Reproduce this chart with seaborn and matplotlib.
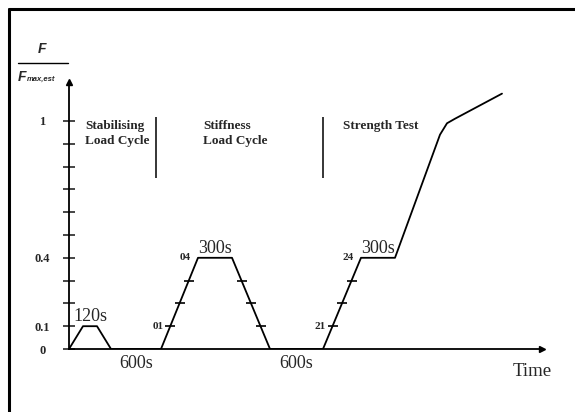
import numpy as np
import pandas as pd
import matplotlib
matplotlib.use("Agg")
import matplotlib.pyplot as plt
from matplotlib.lines import Line2D
import seaborn as sns

# Load path F / F_max,est against schematic time
time = [0, 14, 28, 42, 92, 129, 163, 201, 254, 292, 326, 371, 378, 386, 433]
load = [0, 0.1, 0.1, 0, 0, 0.4, 0.4, 0, 0, 0.4, 0.4, 0.94, 0.99, 1.01, 1.12]

# Ramp segments (index pairs into the path) that carry load-step marks
ramp_segments = [(4, 5), (6, 7), (8, 9)]
step_levels = [0.1, 0.2, 0.3]

y_ticks = [0, 0.1, 0.2, 0.3, 0.4, 0.5, 0.6, 0.7, 0.8, 0.9, 1.0]
y_tick_labels = ["0", "0.1", "", "", "0.4", "", "", "", "", "", "1"]

hold_labels = ["120s", "300s", "300s"]
hold_index = [1, 5, 9]
gap_labels = ["600s", "600s"]
gap_index = [3, 7]
# label, index of the ramp's upper end, load level
step_labels = [("01", 5, 0.1), ("04", 5, 0.4), ("21", 9, 0.1), ("24", 9, 0.4)]

phases = ["Stabilising\nLoad Cycle", "Stiffness\nLoad Cycle", "Strength Test"]
phase_x = [16, 134, 274]
dividers = [87, 254]

sns.set_style("white")
plt.rcParams["font.family"] = ["Liberation Serif", "DejaVu Serif"]

fig = plt.figure(figsize=(5.75, 4.12), dpi=100)
ax = fig.add_axes([69 / 575, 63 / 412, 473 / 575, 267 / 412])

df = pd.DataFrame({"time": time, "load": load})
sns.lineplot(data=df, x="time", y="load", sort=False, estimator=None,
             color="black", linewidth=1.3, ax=ax)


def ramp_time(i_lo, i_hi, lv):
    t0, t1, l0, l1 = time[i_lo], time[i_hi], load[i_lo], load[i_hi]
    return t0 + (lv - l0) / (l1 - l0) * (t1 - t0)


# short marks across the ramps at each load step
tx, ty = [], []
for a, b in ramp_segments:
    for lv in step_levels:
        tx.append(ramp_time(a, b, lv))
        ty.append(lv)
sns.scatterplot(x=tx, y=ty, marker="_", s=60, color="black",
                linewidth=1.2, ax=ax, zorder=3)

ax.set_xlim(0, 473)
ax.set_ylim(0, 1.171)
ax.set_xlabel("")
ax.set_ylabel("")
ax.set_xticks([])
ax.set_yticks(y_ticks)
ax.set_yticklabels(y_tick_labels, fontweight="bold", fontsize=9, ha="center")
ax.tick_params(axis="y", direction="inout", length=8, width=1.2, pad=15, left=True)
for lab in ax.get_yticklabels():
    lab.set_horizontalalignment("center")

for s in ["top", "right"]:
    ax.spines[s].set_visible(False)
for s in ["left", "bottom"]:
    ax.spines[s].set_linewidth(1.3)
    ax.spines[s].set_color("black")

# arrow heads on both axes
ax.plot(1, 0, marker=">", color="black", markersize=4.5,
        transform=ax.transAxes, clip_on=False)
ax.plot(0, 1, marker="^", color="black", markersize=4.5,
        transform=ax.transAxes, clip_on=False)

# hold and gap durations
for lab, i in zip(hold_labels, hold_index):
    ax.text((time[i] + time[i + 1]) / 2, load[i] + 0.005, lab,
            ha="center", va="bottom", fontsize=13)
for lab, i in zip(gap_labels, gap_index):
    ax.text((time[i] + time[i + 1]) / 2, -0.025, lab,
            ha="center", va="top", fontsize=13)

# load-step numbers beside the ramps
for lab, i, lv in step_labels:
    ax.annotate(lab, (ramp_time(i - 1, i, lv), lv), xytext=(-5, 0),
                textcoords="offset points", ha="right", va="center",
                fontsize=8, fontweight="bold")

# test phases
for lab, x0 in zip(phases, phase_x):
    ax.text(x0, 1.005, lab, ha="left", va="top", fontsize=9.5,
            fontweight="bold", linespacing=1.35)
ax.vlines(dividers, 0.75, 1.017, color="black", linewidth=1.1)

ax.text(463, -0.06, "Time", ha="center", va="top", fontsize=13.5, clip_on=False)

# ordinate label as a fraction
fig.text(42 / 575, 1 - 49 / 412, "F", fontsize=10, style="italic",
         fontweight="bold", family="Liberation Sans", ha="center", va="center")
fig.add_artist(Line2D([18 / 575, 68 / 575], [1 - 63 / 412, 1 - 63 / 412],
                      color="black", linewidth=1.0))
fig.text(18 / 575, 1 - 77 / 412, "F", fontsize=10, style="italic",
         fontweight="bold", family="Liberation Sans", ha="left", va="center")
fig.text(27 / 575, 1 - 80 / 412, "max,est", fontsize=5.5, style="italic",
         fontweight="bold", family="Liberation Sans", ha="left", va="center")

# page frame
fig.add_artist(Line2D([9 / 575, 1.0], [1 - 9 / 412, 1 - 9 / 412],
                      color="black", linewidth=2.2))
fig.add_artist(Line2D([9 / 575, 9 / 575], [0.0, 1 - 9 / 412],
                      color="black", linewidth=2.2))

fig.savefig("out.png", dpi=100)
